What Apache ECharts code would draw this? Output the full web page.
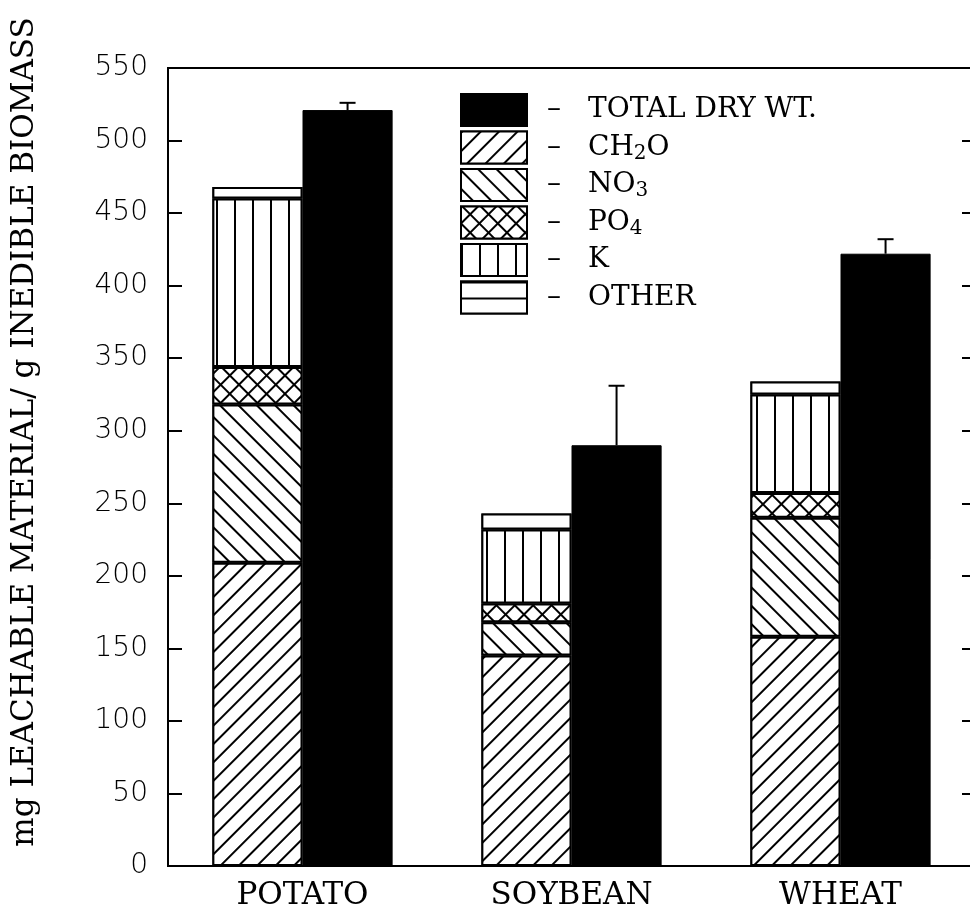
<!DOCTYPE html>
<html>
<head>
<meta charset="utf-8">
<script src="https://cdn.jsdelivr.net/npm/echarts@6/dist/echarts.min.js"></script>
<style>
  html, body { margin: 0; padding: 0; background: #fff; }
  #chart { width: 970px; height: 911px; }
</style>
</head>
<body>
<div id="chart"></div>
<script>
// values (mg / g inedible biomass)
const crops = ['POTATO', 'SOYBEAN', 'WHEAT']
const ch2o = [209, 145, 158]
const no3 = [109, 23, 82]
const po4 = [26, 13, 17]
const potassium = [116, 51, 68]
const other = [8, 11, 9]
const totalDry = [521, 290, 422]
const totalErr = [5, 41, 10]
const yTicks = { min: 0, max: 550, step: 50 }

const chart = echarts.init(document.getElementById('chart'))

// hatch patterns
const lines = (gap, rot) => ({
  symbol: 'rect', color: '#000', backgroundColor: '#fff',
  dashArrayX: [1, 0], dashArrayY: [2, gap], rotation: rot
})
const plain = { symbol: 'rect', color: '#fff', backgroundColor: '#fff', dashArrayX: [1, 0], dashArrayY: [1, 0] }
const segStyle = (decal) => ({
  color: '#fff', borderColor: '#000', borderWidth: 2, decal: decal
})

const stacked = [
  { name: 'CH2O', data: ch2o, decal: lines(11, -Math.PI / 4) },
  { name: 'NO3', data: no3, decal: lines(11, Math.PI / 4) },
  {
    name: 'PO4', data: po4,
    decal: {
      symbol: 'rect', color: '#fff', backgroundColor: '#000',
      dashArrayX: [11, 2], dashArrayY: [11, 2], rotation: Math.PI / 4
    }
  },
  {
    name: 'K', data: potassium,
    decal: {
      symbol: 'rect', color: '#000', backgroundColor: '#fff',
      dashArrayX: [2, 16], dashArrayY: [1, 0], rotation: 0
    }
  },
  { name: 'OTHER', data: other, decal: plain }
].map((s) => ({
  name: s.name,
  type: 'bar',
  stack: 'parts',
  barWidth: '33.5%',
  barGap: '0%',
  data: s.data,
  itemStyle: segStyle(s.decal)
}))

const labelRich = {
  d: { fontSize: 28, fontFamily: 'DejaVu Serif', color: '#000', padding: [0, 27, 0, 15], lineHeight: 32 },
  t: { fontSize: 28, fontFamily: 'DejaVu Serif', color: '#000', lineHeight: 32 },
  s: { fontSize: 20, fontFamily: 'DejaVu Serif', color: '#000', lineHeight: 2, verticalAlign: 'bottom' }
}
const legendText = {
  'TOTAL DRY WT.': '{t|TOTAL DRY WT.}',
  CH2O: '{t|CH}{s|2}{t|O}',
  NO3: '{t|NO}{s|3}',
  PO4: '{t|PO}{s|4}',
  K: '{t|K}',
  OTHER: '{t|OTHER}'
}

chart.setOption({
  animation: false,
  backgroundColor: '#fff',
  grid: {
    left: 168, width: 807, top: 68, bottom: 45,
    outerBoundsMode: 'none',
    containLabel: false,
    show: true, borderColor: '#000', borderWidth: 2
  },
  legend: {
    orient: 'vertical',
    left: 460, top: 93, padding: 0,
    itemWidth: 66, itemHeight: 32, itemGap: 3.5,
    icon: 'rect',
    data: ['TOTAL DRY WT.', 'CH2O', 'NO3', 'PO4', 'K',
      { name: 'OTHER', itemStyle: { decal: lines(14, 0) } }],
    formatter: (name) => '{d|–}' + legendText[name],
    textStyle: { rich: labelRich }
  },
  xAxis: {
    type: 'category',
    data: crops,
    axisLine: { lineStyle: { color: '#000', width: 2 } },
    axisTick: { show: false },
    axisLabel: { color: '#000', fontFamily: 'DejaVu Serif', fontSize: 31, margin: 14 }
  },
  yAxis: [
    {
      type: 'value',
      min: yTicks.min, max: yTicks.max, interval: yTicks.step,
      splitLine: { show: false },
      axisLine: { show: true, lineStyle: { color: '#000', width: 2 } },
      axisTick: { show: true, inside: true, length: 14, lineStyle: { color: '#000', width: 2 } },
      axisLabel: { color: '#000', fontFamily: 'DejaVu Sans', fontWeight: 300, fontSize: 28, margin: 20 }
    },
    {
      type: 'value',
      position: 'right',
      min: yTicks.min, max: yTicks.max, interval: yTicks.step,
      splitLine: { show: false },
      axisLine: { show: false },
      axisTick: { show: true, inside: true, length: 13, lineStyle: { color: '#000', width: 2 } },
      axisLabel: { show: false }
    }
  ],
  graphic: [{
    type: 'text',
    x: 25, y: 432,
    rotation: Math.PI / 2,
    style: {
      text: 'mg LEACHABLE MATERIAL/ g INEDIBLE BIOMASS',
      font: '31px "DejaVu Serif"',
      fill: '#000',
      align: 'center',
      verticalAlign: 'middle'
    }
  }],
  series: [
    ...stacked,
    {
      name: 'TOTAL DRY WT.',
      type: 'bar',
      barWidth: '33.5%',
      barGap: '0%',
      data: totalDry,
      itemStyle: { color: '#000', borderColor: '#000', borderWidth: 1 }
    },
    {
      type: 'custom',
      silent: true,
      data: totalDry.map((v, i) => [i, v, totalErr[i]]),
      encode: { x: 0, y: 1 },
      renderItem: (params, api) => {
        const base = api.coord([api.value(0), api.value(1)])
        const top = api.coord([api.value(0), api.value(1) + api.value(2)])
        const band = api.size([1, 0])[0]
        const x = base[0] + band * 0.335 / 2
        const st = { stroke: '#000', lineWidth: 2 }
        return {
          type: 'group',
          children: [
            { type: 'line', shape: { x1: x, y1: base[1], x2: x, y2: top[1] }, style: st },
            { type: 'line', shape: { x1: x - 8, y1: top[1], x2: x + 8, y2: top[1] }, style: st }
          ]
        }
      }
    }
  ]
})
</script>
</body>
</html>
